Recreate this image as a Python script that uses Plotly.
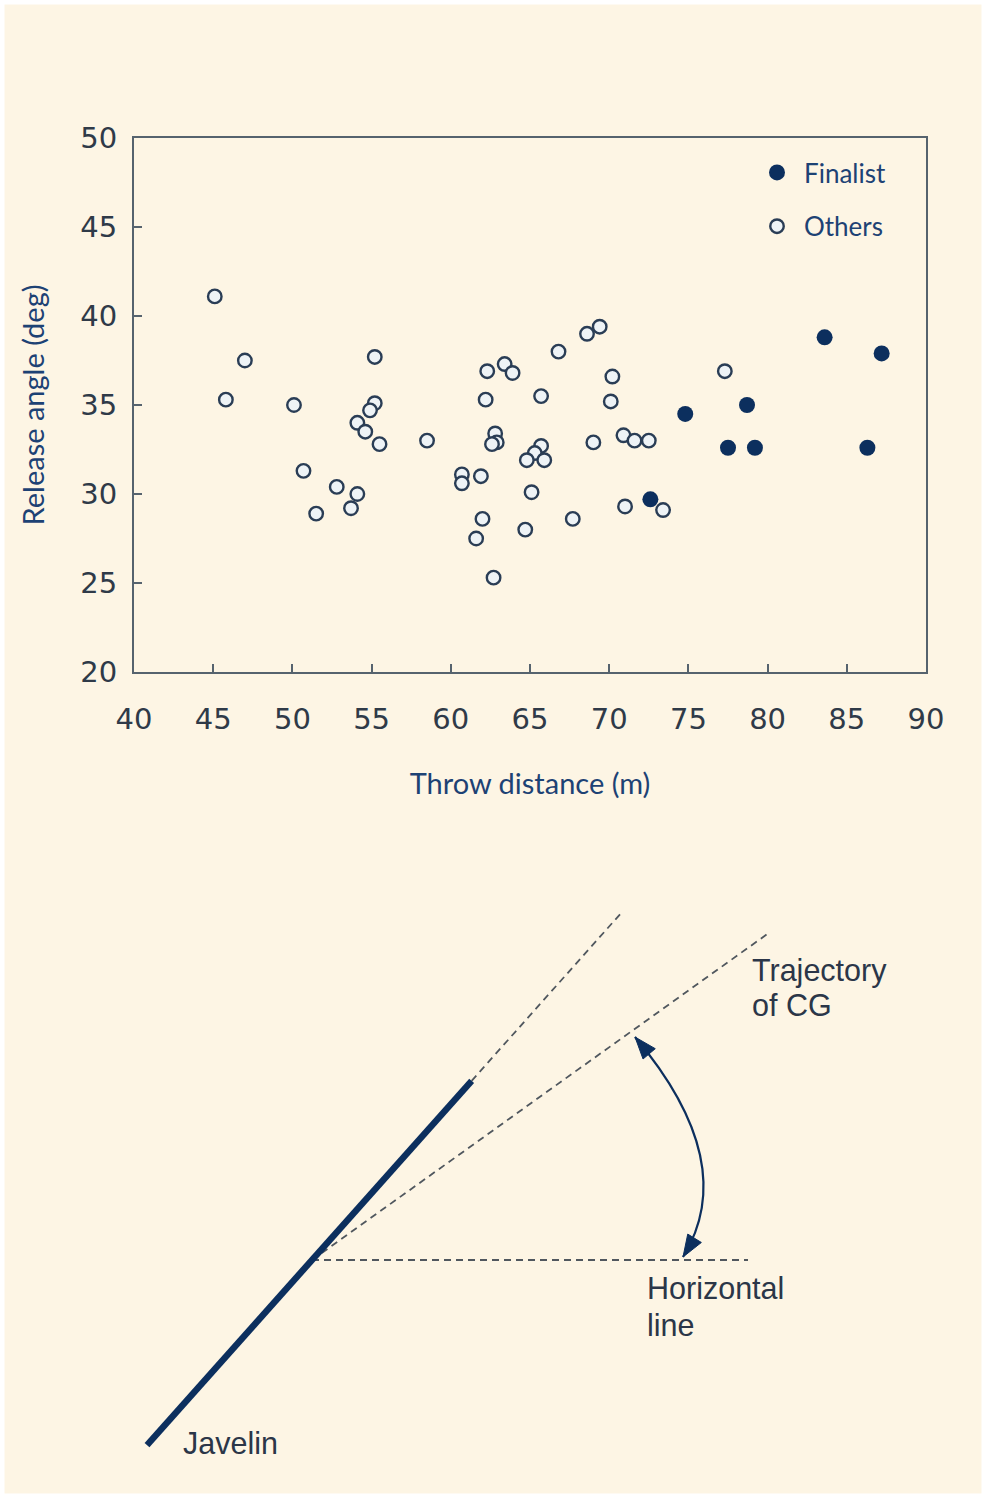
import numpy as np
import plotly.graph_objects as go

# ---------------- data ----------------
finalist_x = [72.6, 74.8, 77.5, 78.7, 79.2, 83.6, 86.3, 87.2]
finalist_y = [29.7, 34.5, 32.6, 35.0, 32.6, 38.8, 32.6, 37.9]

others_x = [45.1, 47.0, 45.8, 55.2, 50.1, 55.2, 54.9, 54.1, 54.6, 55.5, 58.5, 50.7,
            52.8, 54.1, 53.7, 51.5, 69.4, 68.6, 66.8, 62.3, 63.4, 63.9, 70.2, 62.2,
            65.7, 70.1, 62.8, 62.9, 62.6, 69.0, 70.9, 71.6, 72.5, 65.7, 65.3, 64.8,
            65.9, 60.7, 60.7, 61.9, 65.1, 71.0, 73.4, 62.0, 67.7, 64.7, 61.6, 62.7,
            77.3]
others_y = [41.1, 37.5, 35.3, 37.7, 35.0, 35.1, 34.7, 34.0, 33.5, 32.8, 33.0, 31.3,
            30.4, 30.0, 29.2, 28.9, 39.4, 39.0, 38.0, 36.9, 37.3, 36.8, 36.6, 35.3,
            35.5, 35.2, 33.4, 32.9, 32.8, 32.9, 33.3, 33.0, 33.0, 32.7, 32.3, 31.9,
            31.9, 31.1, 30.6, 31.0, 30.1, 29.3, 29.1, 28.6, 28.6, 28.0, 27.5, 25.3,
            36.9]

x_ticks = [40, 45, 50, 55, 60, 65, 70, 75, 80, 85, 90]
y_ticks = [20, 25, 30, 35, 40, 45, 50]

# diagram geometry (angles in degrees, lengths in diagram units)
javelin_angle = 48.3
release_angle = 35.6
javelin_back_len = 248
javelin_front_len = 240
javelin_ext_len = 468
trajectory_len = 561
horizontal_len = 436
arc_start = (323, 223)
arc_ctrl = (429, 97)
arc_end = (371, 3)

# ---------------- styles ----------------
W, H = 986, 1498
CREAM = "#fdf5e4"
NAVY = "#0c2f5e"
FRAME = "#56636e"
TICKC = "#2f3a48"
TITLEC = "#1d4274"
DIAGTXT = "#2b3648"
DASHC = "#50575e"

fig = go.Figure()

fig.add_trace(go.Scatter(
    x=others_x, y=others_y, mode="markers", name="Others",
    legendgroup="o", legendrank=2,
    marker=dict(size=13.5, color="#eef3f6", line=dict(color="#2a3d55", width=2.4)),
    xaxis="x", yaxis="y", hoverinfo="skip"))
fig.add_trace(go.Scatter(
    x=finalist_x, y=finalist_y, mode="markers", name="Finalist",
    legendgroup="f", legendrank=1,
    marker=dict(size=16, color=NAVY, line=dict(color=NAVY, width=0)),
    xaxis="x", yaxis="y", hoverinfo="skip"))

# ---------------- diagram ----------------
def pt(angle, length):
    a = np.deg2rad(angle)
    return length * np.cos(a), length * np.sin(a)

jb = pt(javelin_angle + 180, javelin_back_len)
jf = pt(javelin_angle, javelin_front_len)
je = pt(javelin_angle, javelin_ext_len)
tr = pt(release_angle, trajectory_len)
hz = pt(0, horizontal_len)

dash_style = dict(color=DASHC, width=1.8, dash="7px,5px")
for (p, q) in [(jf, je), ((0, 0), tr), ((0, 0), hz)]:
    fig.add_trace(go.Scatter(x=[p[0], q[0]], y=[p[1], q[1]], mode="lines",
                             line=dash_style, xaxis="x2", yaxis="y2",
                             showlegend=False, hoverinfo="skip"))
fig.add_trace(go.Scatter(x=[jb[0], jf[0]], y=[jb[1], jf[1]], mode="lines",
                         line=dict(color=NAVY, width=6.5), xaxis="x2", yaxis="y2",
                         showlegend=False, hoverinfo="skip"))

shapes = []
shapes.append(dict(type="path", xref="x2", yref="y2",
                   path=f"M {arc_start[0]},{arc_start[1]} Q {arc_ctrl[0]},{arc_ctrl[1]} {arc_end[0]},{arc_end[1]}",
                   line=dict(color=NAVY, width=2.2)))

def head(tip, ctrl, L=22, Wd=16):
    t = np.array(tip, float); c = np.array(ctrl, float)
    u = (t - c) / np.linalg.norm(t - c)
    n = np.array([-u[1], u[0]])
    b = t - L * u
    c1 = b + n * Wd / 2
    c2 = b - n * Wd / 2
    return f"M {t[0]},{t[1]} L {c1[0]},{c1[1]} L {c2[0]},{c2[1]} Z"

for tip in (arc_start, arc_end):
    shapes.append(dict(type="path", xref="x2", yref="y2", path=head(tip, arc_ctrl),
                       fillcolor=NAVY, line=dict(color=NAVY, width=1)))

# white border around the cream page
shapes.append(dict(type="rect", xref="paper", yref="paper",
                   x0=2 / W, x1=1 - 2 / W, y0=2 / H, y1=1 - 2 / H,
                   line=dict(color="white", width=5), layer="below"))

diag_font = dict(family="Liberation Sans, Arial, sans-serif", size=30.5, color=DIAGTXT)
diag_labels = [("Trajectory", 438, 290), ("of CG", 438, 255),
               ("Horizontal", 333, -28), ("line", 333, -65),
               ("Javelin", -131, -183)]
annotations = [dict(x=x, y=y, xref="x2", yref="y2", text=t, showarrow=False,
                    xanchor="left", yanchor="middle", align="left", font=diag_font)
               for (t, x, y) in diag_labels]

title_font = dict(family="Lato, Open Sans, sans-serif", size=29, color=TITLEC)
legend_font = dict(family="Lato, Open Sans, sans-serif", size=26, color=TITLEC)
tick_font = dict(family="DejaVu Sans, Verdana, sans-serif", size=29, color=TICKC)

fig.update_layout(
    width=W, height=H, autosize=False,
    margin=dict(l=0, r=0, t=0, b=0, pad=0, autoexpand=False),
    paper_bgcolor=CREAM, plot_bgcolor=CREAM,
    showlegend=True,
    legend=dict(x=750 / W, y=1 - 149 / H, xanchor="left", yanchor="top",
                bgcolor="rgba(0,0,0,0)", font=legend_font, tracegroupgap=17,
                traceorder="grouped", itemwidth=44),
    xaxis=dict(domain=[134 / W, 926 / W], range=[40, 90], tickvals=x_ticks,
               ticks="inside", ticklen=8, tickwidth=2, tickcolor=FRAME,
               showline=True, linecolor=FRAME, linewidth=2, mirror=True,
               showgrid=False, zeroline=False, tickfont=tick_font,
               ticklabelstandoff=20, automargin=False,
               title=dict(text="Throw distance (m)", font=title_font, standoff=39),
               fixedrange=True, anchor="y"),
    yaxis=dict(domain=[1 - 672 / H, 1 - 138 / H], range=[20, 50], tickvals=y_ticks,
               ticks="inside", ticklen=8, tickwidth=2, tickcolor=FRAME,
               showline=True, linecolor=FRAME, linewidth=2, mirror=True,
               showgrid=False, zeroline=False, tickfont=tick_font,
               ticklabelstandoff=9, automargin=False,
               title=dict(text="Release angle (deg)", font=title_font, standoff=27),
               fixedrange=True, anchor="x"),
    xaxis2=dict(domain=[0, 1], range=[-312, 674], visible=False, fixedrange=True, anchor="y2"),
    yaxis2=dict(domain=[0, 0.5], range=[-238, 511], visible=False, fixedrange=True, anchor="x2"),
    shapes=shapes,
    annotations=annotations,
)

fig.write_html("out.html", config={"displayModeBar": False},
               post_script="document.body.style.margin='0';document.body.style.overflow='hidden';")
